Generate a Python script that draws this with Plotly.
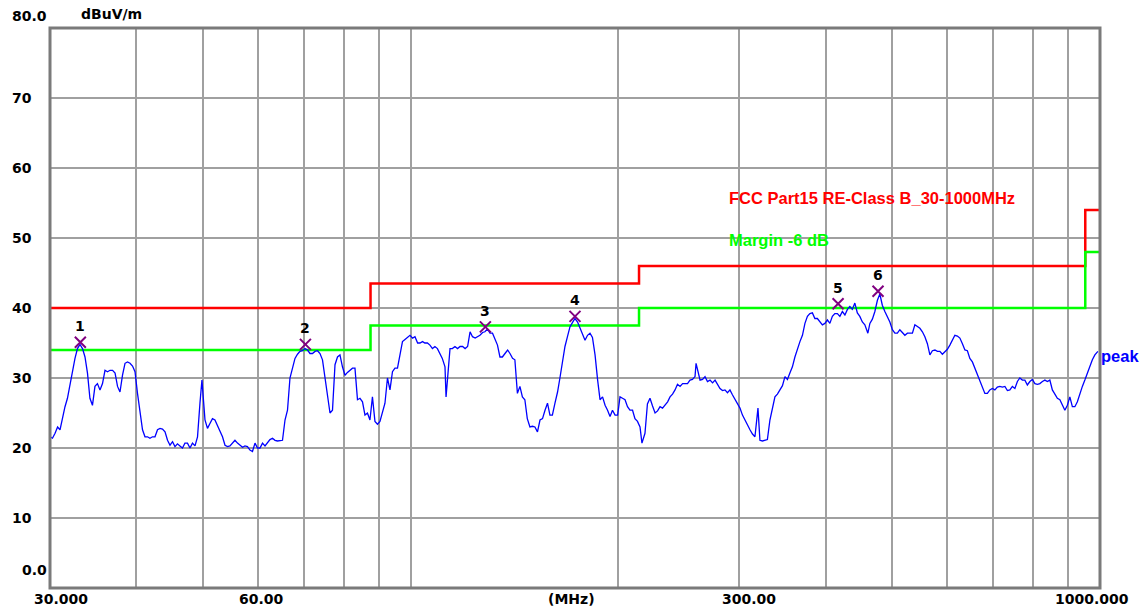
import math
import plotly.graph_objects as go

# ---------------- data ----------------
limit_freq = [30, 87.5, 87.5, 214.5, 214.5, 952, 952, 1000]
limit_level = [40, 40, 43.5, 43.5, 46, 46, 54, 54]
margin_freq = [30, 87.5, 87.5, 214.5, 214.5, 952, 952, 1000]
margin_level = [34, 34, 37.5, 37.5, 40, 40, 48, 48]

# peak trace, samples (set A)
trace_freq_a = [
    30.00, 30.51, 31.02, 31.54, 32.07, 32.61, 33.16, 33.72, 34.28, 34.86,
    35.45, 36.05, 36.66, 37.28, 37.90, 38.54, 39.19, 39.85, 40.52, 41.20,
    41.89, 42.60, 43.32, 44.05, 44.79, 45.54, 46.30, 47.08, 47.88, 48.69,
    49.50, 49.83, 50.34, 51.18, 52.04, 52.93, 53.82, 54.72, 55.64, 56.58, 57.53,
    58.50, 59.49, 60.49, 61.51, 62.54, 63.60, 64.67, 65.76, 66.86, 67.99,
    69.13, 70.30, 71.48, 72.69, 73.91, 75.16, 76.42, 77.71, 79.01, 80.34,
    81.69, 83.07, 84.47, 85.89, 87.33, 88.80, 90.30, 91.82, 93.37, 94.94,
    96.54, 98.17, 99.82, 101.5, 103.2, 104.9, 106.7, 108.5, 110.3, 112.2, 112.6,
    114.1, 116.0, 118.0, 120.0, 122.0, 124.1, 126.1, 128.2, 130.4, 132.6,
    134.8, 137.1, 139.4, 141.7, 144.1, 146.5, 149.0, 151.5, 154.1, 156.7,
    159.3, 162.0, 164.7, 167.5, 170.3, 173.2, 176.1, 179.1, 182.1, 185.2,
    188.3, 191.5, 194.7, 198.0, 201.3, 204.7, 208.1, 211.6, 215.2, 216.6, 218.8,
    222.5, 226.3, 230.1, 234.0, 237.9, 241.9, 246.0, 250.1, 254.3, 258.6, 259.5,
    263.0, 267.4, 271.9, 276.5, 281.1, 285.8, 290.6, 295.5, 300.5, 305.6,
    310.7, 315.9, 319.1, 321.2, 326.6, 332.1, 337.7, 343.4, 349.2, 355.0, 361.0,
    367.1, 373.3, 379.5, 385.9, 392.4, 399.0, 405.7, 412.5, 419.5, 426.6,
    433.7, 441.0, 448.4, 456.0, 460.6, 463.7, 471.5, 479.4, 487.5, 495.7, 504.1,
    512.5, 521.2, 530.0, 538.9, 548.0, 557.2, 566.6, 576.2, 585.8, 595.7,
    605.7, 615.9, 626.3, 636.9, 647.5, 658.5, 669.5, 680.8, 692.2, 703.9,
    715.8, 727.9, 740.1, 752.6, 765.2, 778.1, 791.2, 804.6, 818.1, 831.9,
    845.8, 860.1, 874.6, 889.3, 904.2, 919.5, 934.9, 950.7, 966.7, 983.0, 993.0,
]
trace_level_a = [
    21.6, 22.1, 22.6, 25.9, 29.2, 32.8, 34.8, 33.0, 27.1, 28.8,
    28.3, 31.1, 31.1, 30.7, 28.0, 32.1, 32.1, 30.9, 25.0, 21.6,
    21.4, 21.6, 22.8, 22.3, 20.4, 20.2, 20.3, 20.7, 20.0, 20.3,
    26.4, 29.7, 24.0, 23.5, 24.0, 22.6, 20.4, 20.3, 21.1, 20.4, 20.3,
    19.7, 20.7, 20.0, 20.3, 21.2, 21.1, 21.1, 24.0, 30.0, 32.8,
    33.8, 34.2, 33.5, 33.8, 33.5, 30.0, 25.0, 31.9, 33.3, 30.4,
    31.1, 31.4, 27.1, 24.7, 24.0, 23.8, 23.8, 26.4, 28.3, 31.4,
    33.5, 35.5, 36.1, 35.9, 35.0, 35.0, 34.7, 34.5, 33.5, 31.6, 27.3,
    34.2, 34.5, 34.5, 34.2, 36.6, 35.7, 36.1, 36.6, 36.4, 35.4,
    33.0, 33.5, 33.5, 32.6, 28.8, 26.9, 23.0, 23.0, 24.0, 25.4,
    24.7, 26.4, 30.0, 34.5, 37.3, 38.5, 37.1, 35.4, 36.4, 33.3,
    26.9, 26.1, 24.5, 24.7, 27.3, 26.9, 25.4, 24.2, 23.0, 20.7, 22.1,
    27.1, 25.0, 25.9, 26.1, 27.3, 28.3, 28.8, 29.2, 29.7, 30.2, 32.1,
    29.7, 30.2, 29.7, 29.7, 28.5, 28.3, 28.3, 26.9, 25.7, 24.0,
    22.6, 21.6, 25.7, 21.1, 21.1, 24.0, 27.3, 28.3, 30.2, 30.7, 33.0,
    35.2, 37.8, 39.2, 38.5, 38.0, 37.8, 37.8, 39.2, 38.8, 39.0,
    40.2, 40.7, 38.8, 37.6, 36.4, 37.8, 39.5, 42.0, 39.5, 38.0, 36.4,
    36.9, 36.1, 36.4, 37.6, 37.1, 35.9, 33.3, 34.0, 33.8, 33.8,
    34.7, 36.1, 35.7, 34.0, 32.8, 31.4, 29.5, 27.8, 28.3, 28.3,
    28.8, 28.8, 28.3, 28.5, 30.0, 29.7, 29.5, 29.2, 29.2, 29.7,
    29.7, 27.6, 26.9, 25.4, 27.3, 25.9, 27.8, 29.7, 31.6, 33.3, 33.8,
]

# peak trace, in-between samples (set B)
trace_freq_b = [
    30.25, 30.77, 31.28, 31.80, 32.34, 32.88, 33.44, 34.00, 34.57, 35.15,
    35.75, 36.35, 36.97, 37.59, 38.22, 38.86, 39.52, 40.18, 40.86, 41.55,
    42.24, 42.96, 43.68, 44.42, 45.17, 45.92, 46.69, 47.48, 48.28, 49.10,
    50.76, 51.61, 52.48, 53.37, 54.27, 55.18, 56.11, 57.06, 58.01, 58.99,
    59.99, 61.00, 62.03, 63.07, 64.13, 65.21, 66.31, 67.42, 68.56, 69.71,
    70.89, 72.08, 73.30, 74.53, 75.79, 77.06, 78.36, 79.67, 81.01, 82.38,
    83.77, 85.18, 86.61, 88.06, 89.55, 91.06, 92.59, 94.15, 95.74, 97.35,
    98.99, 100.7, 102.4, 104.1, 105.8, 107.6, 109.4, 111.2,
    115.0, 117.0, 119.0, 121.0, 123.0, 125.1, 127.2, 129.3, 131.5, 133.7,
    135.9, 138.3, 140.6, 142.9, 145.3, 147.7, 150.3, 152.8, 155.4, 158.0,
    160.6, 163.4, 166.1, 168.9, 171.7, 174.7, 177.6, 180.6, 183.6, 186.8,
    189.9, 193.1, 196.3, 199.7, 203.0, 206.4, 209.9, 213.4,
    220.6, 224.4, 228.2, 232.0, 236.0, 239.9, 243.9, 248.1, 252.2, 256.4,
    265.2, 269.6, 274.2, 278.8, 283.5, 288.2, 293.0, 298.0, 303.0, 308.2, 313.3,
    323.9, 329.3, 334.9, 340.5, 346.3, 352.1, 358.0, 364.0, 370.2, 376.4,
    382.7, 389.1, 395.7, 402.4, 409.1, 416.0, 423.0, 430.2, 437.3, 444.7, 452.2,
    467.6, 475.5, 483.4, 491.6, 499.9, 508.3, 516.8, 525.6, 534.5, 543.4,
    552.6, 561.9, 571.4, 581.0, 590.7, 600.7, 610.8, 621.1, 631.6, 642.2,
    653.0, 664.0, 675.1, 686.5, 698.0, 709.8, 721.8, 734.0, 746.3, 758.9,
    771.6, 784.6, 797.8, 811.4, 825.0, 838.9, 852.9, 867.3, 882.0, 896.8,
    911.8, 927.2, 942.8, 958.7, 974.8,
]
trace_level_b = [
    21.4, 23.0, 24.5, 27.1, 31.1, 34.2, 34.2, 30.7, 26.1, 29.2,
    29.2, 30.9, 31.1, 28.8, 30.4, 32.3, 31.7, 27.8, 22.6, 21.6,
    21.6, 22.6, 22.7, 21.1, 20.9, 20.6, 20.0, 20.7, 20.7, 21.6,
    22.8, 24.2, 23.2, 21.6, 20.2, 20.7, 20.7, 20.1, 20.2, 19.5,
    20.0, 20.7, 20.7, 21.4, 21.0, 21.1, 25.4, 31.6, 33.4, 33.9,
    34.0, 33.5, 33.9, 32.6, 27.3, 25.4, 33.0, 31.6, 30.8, 31.4,
    26.9, 26.6, 25.0, 27.3, 23.4, 25.2, 30.0, 30.9, 31.4, 35.2,
    35.8, 35.7, 35.0, 35.2, 35.0, 34.2, 34.2, 32.8,
    34.2, 34.2, 34.5, 34.5, 35.9, 35.9, 36.5, 37.0, 36.4, 34.7,
    33.0, 34.0, 32.8, 27.8, 27.3, 24.2, 23.1, 22.3, 24.2, 26.4,
    24.7, 28.0, 32.3, 35.9, 37.9, 38.0, 36.1, 36.1, 35.8, 29.7,
    27.3, 25.4, 25.4, 24.7, 27.1, 25.9, 25.4, 23.8,
    26.3, 26.0, 25.3, 25.7, 26.6, 27.7, 29.1, 29.2, 29.2, 29.8,
    29.8, 29.5, 29.3, 29.0, 28.2, 27.9, 27.6, 26.3, 24.7, 23.1, 22.0,
    21.0, 21.2, 25.9, 27.7, 28.9, 29.8, 31.6, 34.2, 36.1, 38.8,
    39.3, 38.5, 37.6, 38.3, 38.8, 39.2, 39.5, 39.8, 39.8, 39.3, 38.0,
    38.4, 41.1, 40.4, 38.8, 36.9, 36.4, 36.5, 36.4, 36.4, 37.4,
    36.6, 34.9, 33.9, 33.8, 33.4, 34.1, 35.4, 36.0, 34.9, 33.9,
    32.3, 30.4, 28.8, 27.8, 28.5, 28.7, 28.7, 28.2, 28.8, 29.5,
    29.7, 29.0, 29.8, 29.1, 29.5, 29.5, 28.3, 27.1, 26.1, 26.1,
    25.9, 26.6, 28.8, 30.7, 32.6,
]
assert len(trace_freq_a) == len(trace_level_a)
assert len(trace_freq_b) == len(trace_level_b)

marker_freq = [33.2, 70.4, 128.4, 173.2, 417.0, 476.5]
marker_level = [35.1, 34.8, 37.3, 38.8, 40.6, 42.4]
marker_labels = ["1", "2", "3", "4", "5", "6"]

grid_freq = [40, 50, 60, 70, 80, 90, 100, 200, 300, 400, 500, 600, 700, 800, 900]
y_ticks = [80, 70, 60, 50, 40, 30, 20, 10, 0]
y_tick_text = ["80.0", "70", "60", "50", "40", "30", "20", "10", "0.0"]

x_label_text = ["30.000", "60.00", "(MHz)", "300.00", "1000.000"]
x_label_pos = [61, 261, 571, 749, 1092]   # pixel centres on the page

limit_name = "FCC Part15 RE-Class B_30-1000MHz"
margin_name = "Margin -6 dB"
trace_name = "peak"

# merge the two sample sets in frequency order
pairs = sorted(zip(trace_freq_a + trace_freq_b, trace_level_a + trace_level_b))
trace_freq = [p[0] for p in pairs]
trace_level = [p[1] for p in pairs]

# ---------------- figure ----------------
W, H = 1144, 611
L, R, T, B = 50, 44, 28, 23
PW = W - L - R

def px_to_paper_x(px):
    return (px - L) / PW

NUMF = "DejaVu Sans"
TXTF = "Liberation Sans"

fig = go.Figure()
fig.add_trace(go.Scatter(x=limit_freq, y=limit_level, mode="lines",
                         line=dict(color="#ff0000", width=2.5), hoverinfo="skip"))
fig.add_trace(go.Scatter(x=margin_freq, y=margin_level, mode="lines",
                         line=dict(color="#00ff00", width=2.5), hoverinfo="skip"))
fig.add_trace(go.Scatter(x=trace_freq, y=trace_level, mode="lines",
                         line=dict(color="#0000ff", width=1.3)))
fig.add_trace(go.Scatter(x=marker_freq, y=marker_level, mode="markers",
                         marker=dict(symbol="x-thin-open", size=11, color="#800080",
                                     line=dict(color="#800080", width=2))))

ann = []
for f, v, t in zip(marker_freq, marker_level, marker_labels):
    ann.append(dict(x=math.log10(f), y=v, xref="x", yref="y", text="<b>%s</b>" % t,
                    showarrow=False, yshift=16, font=dict(family=NUMF, size=14, color="#000000")))

for v, t in zip(y_ticks, y_tick_text):
    shift = 0
    xs = -40
    if t == "80.0":
        shift = 12
    if t == "0.0":
        shift = 18
        xs = -30
    ann.append(dict(x=0, y=v, xref="paper", yref="y", text="<b>%s</b>" % t, showarrow=False,
                    xanchor="left", yanchor="middle", xshift=xs, yshift=shift,
                    font=dict(family=NUMF, size=14, color="#000000")))

for t, p in zip(x_label_text, x_label_pos):
    ann.append(dict(x=px_to_paper_x(p), y=0, xref="paper", yref="paper", text="<b>%s</b>" % t,
                    showarrow=False, xanchor="center", yanchor="middle", yshift=-11,
                    font=dict(family=NUMF, size=14, color="#000000")))

ann.append(dict(x=0, y=80, xref="paper", yref="y", text="<b>dBuV/m</b>", showarrow=False,
                xanchor="left", yanchor="middle", xshift=29, yshift=14,
                font=dict(family=NUMF, size=14, color="#000000")))
ann.append(dict(x=px_to_paper_x(727), y=(588 - 198) / 7, xref="paper", yref="y",
                text="<b>%s</b>" % limit_name, showarrow=False, xanchor="left", yanchor="middle",
                font=dict(family=TXTF, size=16.5, color="#ff0000")))
ann.append(dict(x=px_to_paper_x(727), y=(588 - 240) / 7, xref="paper", yref="y",
                text="<b>%s</b>" % margin_name, showarrow=False, xanchor="left", yanchor="middle",
                font=dict(family=TXTF, size=16.5, color="#00ff00")))
ann.append(dict(x=1.0, y=trace_level[-1] - 0.6, xref="paper", yref="y",
                text="<b>%s</b>" % trace_name, showarrow=False, xanchor="left", yanchor="middle",
                xshift=-1, font=dict(family=TXTF, size=16.5, color="#0000ff")))

fig.update_layout(
    width=W, height=H,
    margin=dict(l=L, r=R, t=T, b=B, pad=0),
    paper_bgcolor="#ffffff", plot_bgcolor="#ffffff",
    showlegend=False,
    annotations=ann,
    xaxis=dict(type="log", range=[math.log10(30), math.log10(1000)],
               tickvals=grid_freq, showticklabels=False, ticks="",
               showgrid=True, gridcolor="#a0a0a0", gridwidth=1.6,
               zeroline=False, showline=False, fixedrange=True),
    yaxis=dict(range=[0, 80], tickvals=y_ticks, showticklabels=False, ticks="",
               showgrid=True, gridcolor="#a0a0a0", gridwidth=1.6,
               zeroline=False, showline=False, fixedrange=True),
    shapes=[dict(type="rect", xref="paper", yref="paper", x0=0, x1=1, y0=0, y1=1,
                 line=dict(color="#7a7a7a", width=3), layer="above")],
)

fig.write_html(
    "out.html",
    config={"displayModeBar": False},
    post_script="document.body.style.margin='0';document.body.style.overflow='hidden';",
)
